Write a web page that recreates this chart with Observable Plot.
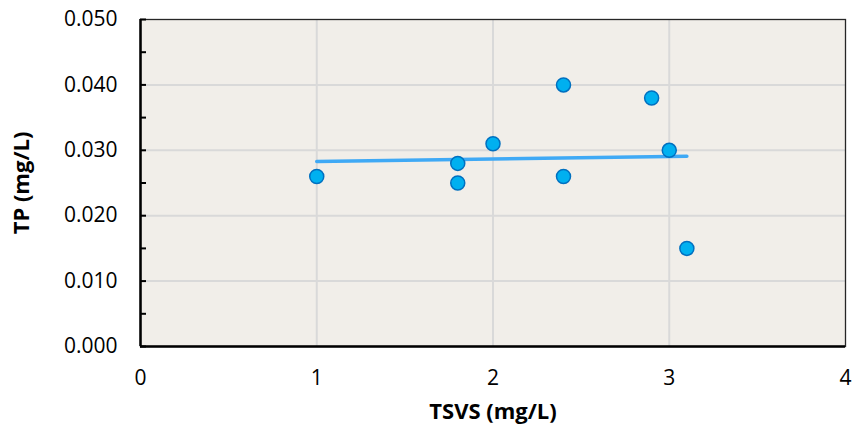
<!DOCTYPE html>
<html><head><meta charset="utf-8">
<script src="https://cdn.jsdelivr.net/npm/d3@7"></script>
<script src="https://cdn.jsdelivr.net/npm/@observablehq/plot@0.6"></script>
<style>body{margin:0;background:#fff}</style>
</head><body><div id="chart"></div>
<script>
const tsvs = [1, 1.8, 1.8, 2, 2.4, 2.4, 2.9, 3, 3.1];
const tp = [0.026, 0.028, 0.025, 0.031, 0.040, 0.026, 0.038, 0.030, 0.015];
const xTicks = [0, 1, 2, 3, 4];
const yTicks = [0, 0.01, 0.02, 0.03, 0.04, 0.05];
const yMinorTicks = [0, 0.005, 0.01, 0.015, 0.02, 0.025, 0.03, 0.035, 0.04, 0.045, 0.05];
const xGrid = [1, 2, 3];
const yGrid = [0.01, 0.02, 0.03, 0.04];
const xLabel = "TSVS (mg/L)";
const yLabel = "TP (mg/L)";

const data = tsvs.map((x, i) => ({x, y: tp[i]}));
const W = 852, H = 430, ML = 140, MR = 7, MT = 19, MB = 84;
const plotW = W - ML - MR;

const chart = Plot.plot({
  width: W, height: H,
  marginLeft: ML, marginRight: MR, marginTop: MT, marginBottom: MB,
  style: {fontFamily: "'Open Sans', sans-serif", fontSize: "21px", color: "#000", background: "#fff"},
  x: {domain: [0, 4]},
  y: {domain: [0, 0.05]},
  marks: [
    Plot.frame({fill: "#f1eee9", stroke: null}),
    Plot.gridX(xGrid, {stroke: "#d9d9d9", strokeOpacity: 1, strokeWidth: 2}),
    Plot.gridY(yGrid, {stroke: "#d9d9d9", strokeOpacity: 1, strokeWidth: 2}),
    Plot.frame({stroke: "#262626", strokeWidth: 1.3}),
    Plot.ruleX([0], {stroke: "#000", strokeWidth: 2.5}),
    Plot.ruleY([0], {stroke: "#000", strokeWidth: 2.5}),
    Plot.tickY(yMinorTicks, {y: d => d, stroke: "#000", strokeWidth: 2, insetRight: plotW - 6}),
    Plot.axisY({ticks: yTicks, tickFormat: d3.format(".3f"), tickSize: 0, tickPadding: 23, label: null, fontSize: 21}),
    Plot.axisX({ticks: xTicks, tickFormat: d3.format("d"), tickSize: 0, tickPadding: 24, label: null, fontSize: 21}),
    Plot.linearRegressionY(data, {x: "x", y: "y", ci: 0, stroke: "#3fa9f5", strokeWidth: 3.5}),
    Plot.dot(data, {x: "x", y: "y", r: 7, fill: "#00b0f0", stroke: "#0070c0", strokeWidth: 1.5}),
    Plot.text([xLabel], {frameAnchor: "bottom", dy: 72, fontWeight: "bold", fontSize: 22}),
    Plot.text([yLabel], {frameAnchor: "left", textAnchor: "middle", dx: -119, rotate: -90, fontWeight: "bold", fontSize: 22})
  ]
});
document.getElementById("chart").append(chart);
</script>
</body></html>
